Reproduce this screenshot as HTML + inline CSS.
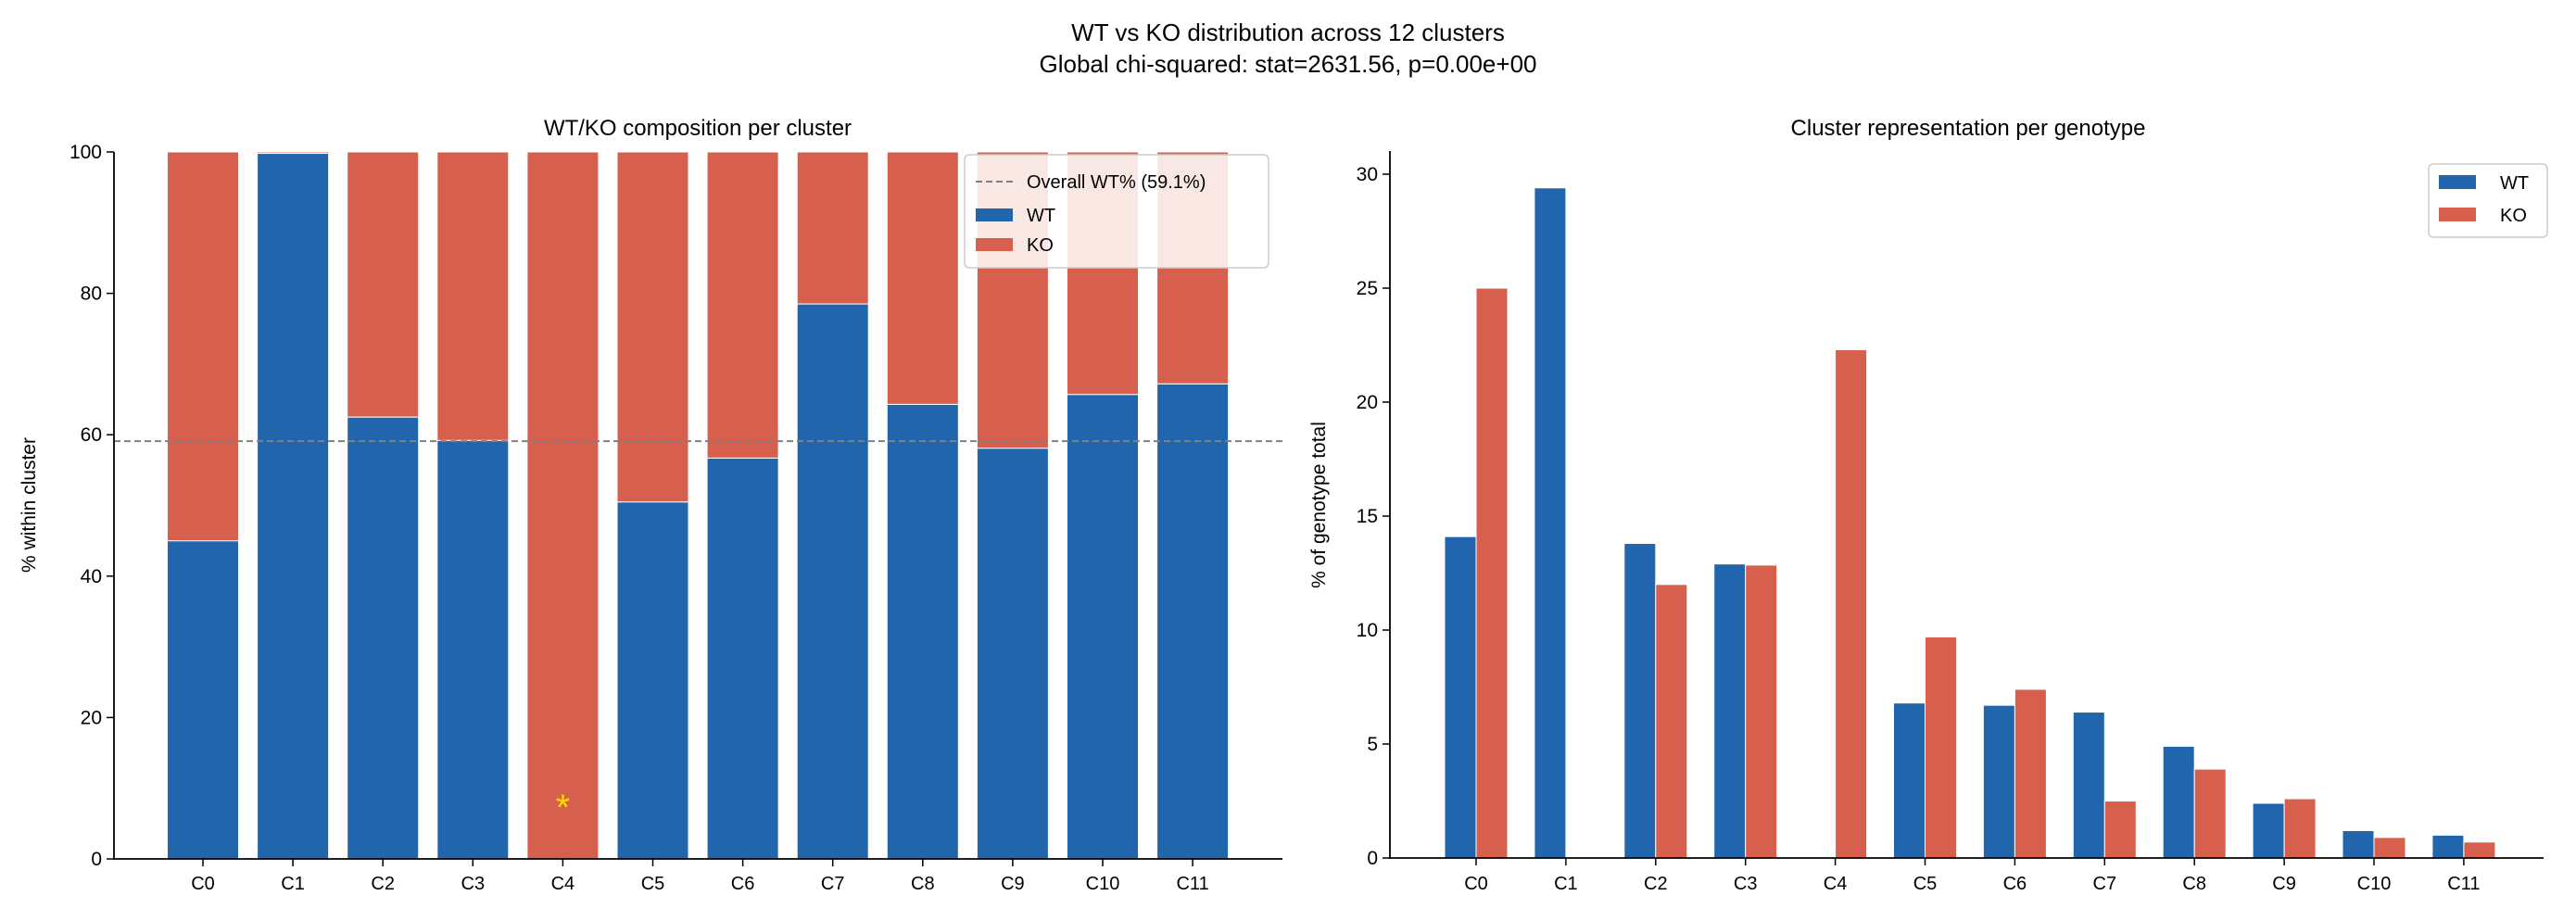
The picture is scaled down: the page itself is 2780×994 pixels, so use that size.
<!DOCTYPE html>
<html><head><meta charset="utf-8"><style>
body{margin:0;background:#fff;}
svg text{font-family:"Liberation Sans",sans-serif;fill:#000;}
</style></head><body>
<svg id="fig" width="2780" height="989" xmlns="http://www.w3.org/2000/svg">
<text x="1390" y="44" font-size="26" text-anchor="middle">WT vs KO distribution across 12 clusters</text>
<text x="1390" y="78" font-size="26" text-anchor="middle">Global chi-squared: stat=2631.56, p=0.00e+00</text>
<g id="left"></g>
<g id="right"></g>
</svg>
<script>
const categories=["C0","C1","C2","C3","C4","C5","C6","C7","C8","C9","C10","C11"];
const wtPct=[45,99.8,62.5,59.2,0,50.5,56.7,78.5,64.3,58.1,65.7,67.2];
const overallWT=59.1;
const leftTicks=[0,20,40,60,80,100];
const wtRep=[14.1,29.4,13.8,12.9,0,6.8,6.7,6.4,4.9,2.4,1.2,1.0];
const koRep=[25.0,0,12.0,12.85,22.3,9.7,7.4,2.5,3.9,2.6,0.9,0.7];
const rightTicks=[0,5,10,15,20,25,30];
const sigClusters=["C4"];
const BLUE="#2166ac",RED="#d6604d",NS="http://www.w3.org/2000/svg";
function el(parent,tag,attrs){const e=document.createElementNS(NS,tag);for(const k in attrs)e.setAttribute(k,attrs[k]);parent.appendChild(e);return e;}
// Left
const L=document.getElementById('left');
const lx=i=>219+i*97.1, ly=v=>927-v*7.63;
categories.forEach((c,i)=>{
  const w=77,x0=lx(i)-w/2;
  const b1=el(L,'rect',{x:x0,y:ly(wtPct[i]),width:w,height:ly(0)-ly(wtPct[i]),fill:BLUE,stroke:'#fff','stroke-width':1});
  
  
  const b2=el(L,'rect',{x:x0,y:ly(100),width:w,height:ly(wtPct[i])-ly(100),fill:RED,stroke:'#fff','stroke-width':1});
  
  
  const t=el(L,'text',{x:lx(i),y:960,'font-size':20,'text-anchor':'middle'});t.textContent=c;
  
  
  el(L,'line',{x1:lx(i),x2:lx(i),y1:927,y2:935,stroke:'#000','stroke-width':1.5});
  if(sigClusters.includes(c)){const s=el(L,'text',{x:lx(i),y:ly(8.1)+20,'font-size':40,'text-anchor':'middle',style:'fill:#ffd700'});s.textContent='*';
  
  }
});
const dl=el(L,'line',{x1:123,x2:1384,y1:ly(overallWT),y2:ly(overallWT),stroke:'#808080','stroke-width':2,'stroke-dasharray':'7,4'});


leftTicks.forEach(v=>{el(L,'line',{x1:115,x2:123,y1:ly(v),y2:ly(v),stroke:'#000','stroke-width':1.5});
 const t=el(L,'text',{x:110,y:ly(v)+7,'font-size':21,'text-anchor':'end'});t.textContent=v;
 
 });
el(L,'line',{x1:123,x2:123,y1:164,y2:928,stroke:'#000','stroke-width':1.8});
el(L,'line',{x1:122,x2:1384,y1:927,y2:927,stroke:'#000','stroke-width':1.8});
let tt=el(L,'text',{x:753,y:146,'font-size':24,'text-anchor':'middle'});tt.textContent='WT/KO composition per cluster';

tt=el(L,'text',{x:0,y:0,'font-size':21,'text-anchor':'middle',transform:'translate(38,545) rotate(-90)'});tt.textContent='% within cluster';

// left legend
const lg=el(L,'g',{});

el(lg,'rect',{x:1041,y:167,width:328,height:122,rx:5,fill:'rgba(255,255,255,0.85)',stroke:'#ccc','stroke-width':1.5});
el(lg,'line',{x1:1053,x2:1093,y1:196,y2:196,stroke:'#808080','stroke-width':2,'stroke-dasharray':'7,4'});
el(lg,'rect',{x:1053,y:225,width:40,height:14,fill:BLUE});
el(lg,'rect',{x:1053,y:257,width:40,height:14,fill:RED});
[['Overall WT% (59.1%)',203],['WT',239],['KO',271]].forEach(([s,y])=>{const t=el(lg,'text',{x:1108,y:y,'font-size':20});t.textContent=s;
 });
// Right
const R=document.getElementById('right');
const rx=i=>1593+i*96.9, ry=v=>926-v*24.6, bw=34;
categories.forEach((c,i)=>{
  const b1=el(R,'rect',{x:rx(i)-bw,y:ry(wtRep[i]),width:bw,height:ry(0)-ry(wtRep[i]),fill:BLUE,stroke:'#fff','stroke-width':1});
  
  
  const b2=el(R,'rect',{x:rx(i),y:ry(koRep[i]),width:bw,height:ry(0)-ry(koRep[i]),fill:RED,stroke:'#fff','stroke-width':1});
  
  
  const t=el(R,'text',{x:rx(i),y:960,'font-size':20,'text-anchor':'middle'});t.textContent=c;
  
  
  el(R,'line',{x1:rx(i),x2:rx(i),y1:926,y2:934,stroke:'#000','stroke-width':1.5});
});
rightTicks.forEach(v=>{el(R,'line',{x1:1492,x2:1500,y1:ry(v),y2:ry(v),stroke:'#000','stroke-width':1.5});
 const t=el(R,'text',{x:1487,y:ry(v)+7,'font-size':21,'text-anchor':'end'});t.textContent=v;
 
 });
el(R,'line',{x1:1500,x2:1500,y1:163,y2:927,stroke:'#000','stroke-width':1.8});
el(R,'line',{x1:1499,x2:2745,y1:926,y2:926,stroke:'#000','stroke-width':1.8});
tt=el(R,'text',{x:2124,y:146,'font-size':24,'text-anchor':'middle'});tt.textContent='Cluster representation per genotype';

tt=el(R,'text',{x:0,y:0,'font-size':21,'text-anchor':'middle',transform:'translate(1430,545) rotate(-90)'});tt.textContent='% of genotype total';

const rg=el(R,'g',{});

el(rg,'rect',{x:2621,y:177,width:128,height:79,rx:5,fill:'#fff',stroke:'#ccc','stroke-width':1.5});
el(rg,'rect',{x:2632,y:189,width:40,height:15,fill:BLUE});
el(rg,'rect',{x:2632,y:224,width:40,height:15,fill:RED});
[['WT',204],['KO',239]].forEach(([s,y])=>{const t=el(rg,'text',{x:2698,y:y,'font-size':20});t.textContent=s;
 });
</script>
</body></html>
